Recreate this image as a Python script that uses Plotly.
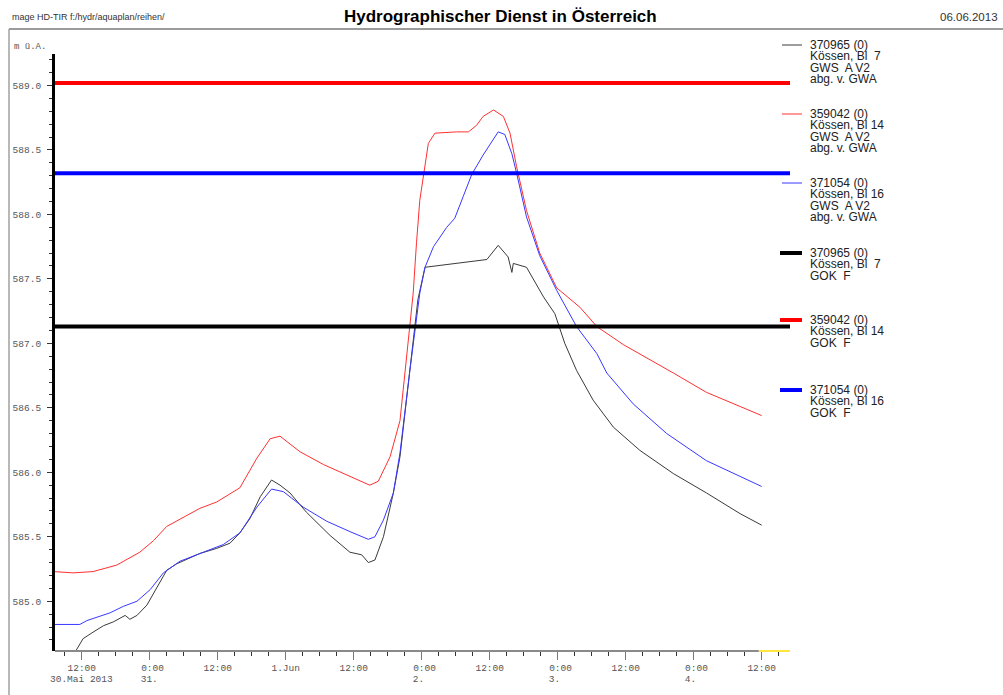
import plotly.graph_objects as go

# ---------------- data ----------------
t_black = ["2013-05-30 10:45", "2013-05-30 12:15", "2013-05-30 14:00", "2013-05-30 15:50", "2013-05-30 17:35",
           "2013-05-30 19:40", "2013-05-30 20:30", "2013-05-30 21:45", "2013-05-30 23:30", "2013-05-31 01:15",
           "2013-05-31 03:00", "2013-05-31 04:45", "2013-05-31 08:50", "2013-05-31 11:50", "2013-05-31 14:10",
           "2013-05-31 15:55", "2013-05-31 17:40", "2013-05-31 19:30", "2013-05-31 21:30", "2013-05-31 23:00",
           "2013-06-01 00:45", "2013-06-01 03:40", "2013-06-01 07:50", "2013-06-01 11:20", "2013-06-01 13:25",
           "2013-06-01 14:35", "2013-06-01 15:45", "2013-06-01 17:15", "2013-06-01 19:00", "2013-06-01 20:10",
           "2013-06-01 21:55", "2013-06-01 23:20", "2013-06-02 00:35", "2013-06-02 04:25", "2013-06-02 11:30",
           "2013-06-02 13:30", "2013-06-02 15:15", "2013-06-02 15:55", "2013-06-02 16:10", "2013-06-02 18:30",
           "2013-06-02 21:30", "2013-06-02 23:30", "2013-06-03 01:15", "2013-06-03 03:20", "2013-06-03 06:15",
           "2013-06-03 09:50", "2013-06-03 14:30", "2013-06-03 20:25", "2013-06-04 02:15", "2013-06-04 08:10",
           "2013-06-04 12:00"]
v_black = [584.60, 584.71, 584.76, 584.81, 584.84,
           584.89, 584.86, 584.89, 584.97, 585.10,
           585.24, 585.29, 585.37, 585.41, 585.45,
           585.53, 585.64, 585.81, 585.94, 585.90,
           585.84, 585.69, 585.51, 585.38, 585.36,
           585.30, 585.32, 585.50, 585.84, 586.12,
           586.77, 587.34, 587.59, 587.61, 587.65,
           587.76, 587.67, 587.55, 587.62, 587.59,
           587.36, 587.23, 587.00, 586.79, 586.56,
           586.35, 586.17, 585.99, 585.84, 585.68,
           585.59]

t_red = ["2013-05-30 07:00", "2013-05-30 10:30", "2013-05-30 14:00", "2013-05-30 18:10", "2013-05-30 22:15",
         "2013-05-31 00:40", "2013-05-31 03:00", "2013-05-31 05:55", "2013-05-31 08:50", "2013-05-31 11:50",
         "2013-05-31 15:55", "2013-05-31 18:55", "2013-05-31 21:15", "2013-05-31 23:00", "2013-06-01 02:30",
         "2013-06-01 06:40", "2013-06-01 11:20", "2013-06-01 14:50", "2013-06-01 16:20", "2013-06-01 18:25",
         "2013-06-01 20:10", "2013-06-01 22:30", "2013-06-01 23:05", "2013-06-01 23:40", "2013-06-02 01:10",
         "2013-06-02 02:20", "2013-06-02 06:10", "2013-06-02 08:15", "2013-06-02 09:40", "2013-06-02 10:50",
         "2013-06-02 12:40", "2013-06-02 14:25", "2013-06-02 15:35", "2013-06-02 16:45", "2013-06-02 18:30",
         "2013-06-02 20:50", "2013-06-02 23:50", "2013-06-03 03:55", "2013-06-03 06:55", "2013-06-03 11:35",
         "2013-06-03 20:25", "2013-06-04 02:15", "2013-06-04 12:00"]
v_red = [585.23, 585.22, 585.23, 585.28, 585.38,
         585.47, 585.58, 585.65, 585.72, 585.77,
         585.88, 586.11, 586.26, 586.28, 586.16,
         586.06, 585.97, 585.90, 585.93, 586.12,
         586.40, 587.39, 587.78, 588.11, 588.55,
         588.63, 588.64, 588.64, 588.69, 588.76,
         588.81, 588.76, 588.63, 588.37, 588.03,
         587.70, 587.43, 587.28, 587.13, 586.99,
         586.77, 586.62, 586.44]

t_blue = ["2013-05-30 07:00", "2013-05-30 11:40", "2013-05-30 12:55", "2013-05-30 17:00", "2013-05-30 19:20",
          "2013-05-30 21:45", "2013-05-31 00:05", "2013-05-31 02:25", "2013-05-31 05:20", "2013-05-31 08:50",
          "2013-05-31 13:00", "2013-05-31 15:55", "2013-05-31 18:55", "2013-05-31 21:30", "2013-05-31 23:35",
          "2013-06-01 03:05", "2013-06-01 07:15", "2013-06-01 11:20", "2013-06-01 14:35", "2013-06-01 15:45",
          "2013-06-01 17:15", "2013-06-01 19:00", "2013-06-01 20:10", "2013-06-01 21:55", "2013-06-01 23:40",
          "2013-06-02 00:35", "2013-06-02 02:05", "2013-06-02 04:25", "2013-06-02 05:50", "2013-06-02 07:20",
          "2013-06-02 08:50", "2013-06-02 10:50", "2013-06-02 13:30", "2013-06-02 14:40", "2013-06-02 15:55",
          "2013-06-02 16:45", "2013-06-02 18:30", "2013-06-02 20:50", "2013-06-02 23:50", "2013-06-03 03:20",
          "2013-06-03 06:55", "2013-06-03 08:40", "2013-06-03 13:20", "2013-06-03 19:15", "2013-06-04 02:15",
          "2013-06-04 12:00"]
v_blue = [584.82, 584.82, 584.85, 584.91, 584.96,
          585.00, 585.09, 585.22, 585.31, 585.37,
          585.44, 585.53, 585.73, 585.87, 585.85,
          585.73, 585.62, 585.54, 585.48, 585.50,
          585.63, 585.84, 586.15, 586.79, 587.39,
          587.59, 587.75, 587.90, 587.97, 588.14,
          588.31, 588.46, 588.64, 588.62, 588.47,
          588.32, 587.98, 587.68, 587.41, 587.13,
          586.92, 586.77, 586.53, 586.30, 586.09,
          585.89]

# ground levels (GOK)
gok_black = 587.13
gok_red = 589.02
gok_blue = 588.32

x_start = "2013-05-30 07:17"
x_end = "2013-06-04 17:00"
x_data_end = "2013-06-04 11:30"
y_range = [584.614, 589.244]

tick_vals = ["2013-05-30 12:00", "2013-05-31 00:00", "2013-05-31 12:00", "2013-06-01 00:00",
             "2013-06-01 12:00", "2013-06-02 00:00", "2013-06-02 12:00", "2013-06-03 00:00",
             "2013-06-03 12:00", "2013-06-04 00:00", "2013-06-04 12:00"]
tick_text = ["12:00", "\u00a00:00", "12:00", "1.Jun", "12:00", "\u00a00:00", "12:00",
             "\u00a00:00", "12:00", "\u00a00:00", "12:00"]
date_vals = ["2013-05-30 12:00", "2013-05-31 00:00", "2013-06-02 00:00", "2013-06-03 00:00", "2013-06-04 00:00"]
date_text = ["30.Mai\u00a02013", "\u00a031.\u00a0", "\u00a02.\u00a0\u00a0", "\u00a03.\u00a0\u00a0", "\u00a04.\u00a0\u00a0"]

legend_entries = [
    (["370965 (0)", "Kössen, Bl\u00a0 7", "GWS\u00a0 A V2", "abg. v. GWA"], "#3a3a3a", 1, 45),
    (["359042 (0)", "Kössen, Bl 14", "GWS\u00a0 A V2", "abg. v. GWA"], "#ff3030", 1, 114),
    (["371054 (0)", "Kössen, Bl 16", "GWS\u00a0 A V2", "abg. v. GWA"], "#3838ff", 1, 183),
    (["370965 (0)", "Kössen, Bl\u00a0 7", "GOK\u00a0 F"], "#000000", 4, 253),
    (["359042 (0)", "Kössen, Bl 14", "GOK\u00a0 F"], "#ff0000", 4, 320),
    (["371054 (0)", "Kössen, Bl 16", "GOK\u00a0 F"], "#0000ff", 4, 390),
]

# ---------------- layout geometry (pixels) ----------------
W, H = 1003, 695
L, R, T, B = 55, 790, 54, 651


def px(x):
    return (x - L) / (R - L)


def py(y):
    return (B - y) / (B - T)


mono = "Liberation Mono, Courier New, monospace"
sans = "Liberation Sans, Arial, sans-serif"

fig = go.Figure()
fig.add_trace(go.Scatter(x=t_black, y=v_black, mode="lines", line=dict(color="#3a3a3a", width=1)))
fig.add_trace(go.Scatter(x=t_red, y=v_red, mode="lines", line=dict(color="#ff3030", width=1)))
fig.add_trace(go.Scatter(x=t_blue, y=v_blue, mode="lines", line=dict(color="#3838ff", width=1)))
for g, c in [(gok_black, "#000000"), (gok_red, "#ff0000"), (gok_blue, "#0000ff")]:
    fig.add_trace(go.Scatter(x=[x_start, x_end], y=[g, g], mode="lines", line=dict(color=c, width=4)))

shapes = []
# x axis line: gray then yellow
shapes.append(dict(type="line", xref="x", yref="paper", x0=x_start, x1=x_data_end, y0=0, y1=0,
                   line=dict(color="#8a8a8a", width=2)))
shapes.append(dict(type="line", xref="x", yref="paper", x0=x_data_end, x1=x_end, y0=0, y1=0,
                   line=dict(color="#ffe640", width=2)))
# frame lines
shapes.append(dict(type="line", xref="paper", yref="paper", x0=px(9), x1=px(1003), y0=py(29), y1=py(29),
                   line=dict(color="#7a7a7a", width=1.5)))
shapes.append(dict(type="line", xref="paper", yref="paper", x0=px(9), x1=px(9), y0=py(29), y1=py(695),
                   line=dict(color="#a0a0a0", width=1.5)))

annotations = []
annotations.append(dict(text="<b>Hydrographischer Dienst in Österreich</b>", x=px(500), y=py(16),
                        xref="paper", yref="paper", xanchor="center", yanchor="middle", showarrow=False,
                        font=dict(family=sans, size=17, color="#000000")))
annotations.append(dict(text="mage HD-TIR f:/hydr/aquaplan/reihen/", x=px(10), y=py(17),
                        xref="paper", yref="paper", xanchor="left", yanchor="middle", showarrow=False,
                        font=dict(family=sans, size=9, color="#333333")))
annotations.append(dict(text="06.06.2013", x=px(1000), y=py(17),
                        xref="paper", yref="paper", xanchor="right", yanchor="middle", showarrow=False,
                        font=dict(family=sans, size=11.5, color="#333333")))
annotations.append(dict(text="m ü.A.", x=px(12), y=py(47),
                        xref="paper", yref="paper", xanchor="left", yanchor="middle", showarrow=False,
                        font=dict(family=mono, size=9, color="#555555")))
for dv, dt in zip(date_vals, date_text):
    annotations.append(dict(text=dt, x=dv, y=0, xref="x", yref="paper", yshift=-28,
                            xanchor="center", yanchor="middle", showarrow=False,
                            font=dict(family=mono, size=9.5, color="#555555")))

for lines, color, width, yl in legend_entries:
    x0 = 782 if width == 1 else 780
    shapes.append(dict(type="line", xref="paper", yref="paper", x0=px(x0), x1=px(802), y0=py(yl), y1=py(yl),
                       line=dict(color=color, width=width)))
    for i, s in enumerate(lines):
        annotations.append(dict(text=s, x=px(809), y=py(yl + i * 11.3), xref="paper", yref="paper",
                                xanchor="left", yanchor="middle", showarrow=False, borderpad=0,
                                font=dict(family=sans, size=12, color="#222222")))

fig.update_layout(
    width=W, height=H,
    margin=dict(l=L, r=W - R, t=T, b=H - B, pad=0),
    paper_bgcolor="white", plot_bgcolor="white",
    showlegend=False,
    shapes=shapes, annotations=annotations,
    xaxis=dict(type="date", range=[x_start, x_end], showgrid=False, zeroline=False, showline=False,
               tickmode="array", tickvals=tick_vals, ticktext=tick_text,
               ticks="outside", ticklen=8, tickwidth=1, tickcolor="#777777",
               tickfont=dict(family=mono, size=9.5, color="#555555"),
               minor=dict(dtick=3 * 3600 * 1000, tick0="2013-05-30 00:00", ticks="outside",
                          ticklen=4, tickcolor="#333333", tickwidth=1),
               automargin=False),
    yaxis=dict(range=y_range, showgrid=False, zeroline=False, showline=True, linewidth=3, linecolor="black",
               tick0=585, dtick=0.5, tickformat=".1f",
               ticks="outside", ticklen=5, tickwidth=1, tickcolor="#333333",
               ticklabelstandoff=4,
               tickfont=dict(family=mono, size=9.5, color="#555555"),
               minor=dict(dtick=0.1, tick0=585, ticks="outside", ticklen=3, tickcolor="#333333", tickwidth=1),
               automargin=False),
)

fig.write_html("out.html", config={"displayModeBar": False},
               post_script="document.body.style.margin='0';document.body.style.overflow='hidden';")
